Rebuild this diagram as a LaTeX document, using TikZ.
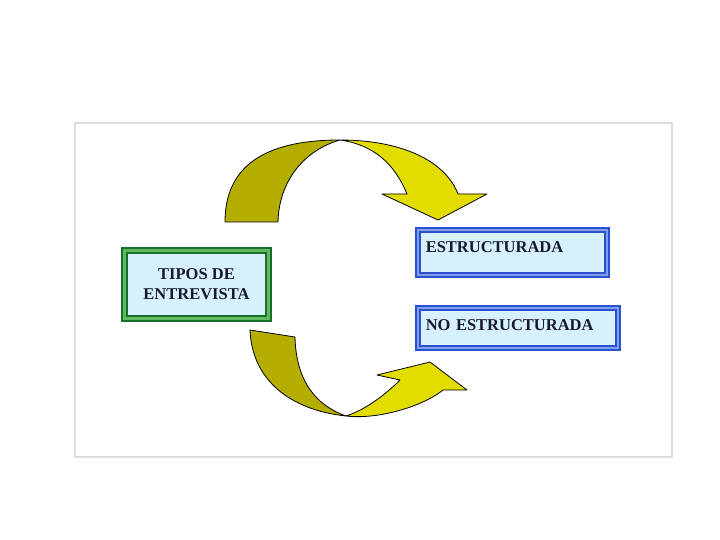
\documentclass[tikz,border=0pt]{standalone}
\usepackage{fontspec}
\setmainfont{Liberation Serif}
\definecolor{BoxFill}{RGB}{214,240,252}
\definecolor{GreenDark}{RGB}{25,110,40}
\definecolor{GreenMid}{RGB}{95,185,95}
\definecolor{BlueDark}{RGB}{45,80,210}
\definecolor{BlueMid}{RGB}{125,160,238}
\definecolor{RibbonBack}{RGB}{180,174,0}
\definecolor{RibbonFront}{RGB}{226,220,0}
\definecolor{FrameGray}{RGB}{222,222,222}
\definecolor{TextInk}{RGB}{25,25,40}
\usetikzlibrary{positioning}
\tikzset{rootbox/.style={fill=BoxFill,draw=GreenDark,double=GreenMid,double distance=3.5pt,line width=1.7pt,minimum width=144pt,minimum height=68pt,align=center,text=TextInk,font=\fontsize{16.5}{20}\selectfont\bfseries}}
\tikzset{leafbox/.style={fill=BoxFill,draw=BlueDark,double=BlueMid,double distance=2pt,line width=1.8pt,inner xsep=8pt,inner ysep=0pt,align=left,text height=12pt,text=TextInk,font=\fontsize{16.5}{20}\selectfont\bfseries}}
\tikzset{ribbonback/.style={fill=RibbonBack,draw=black,line width=0.8pt,line join=round}}
\tikzset{ribbonfront/.style={fill=RibbonFront,draw=black,line width=0.8pt,line join=round}}
\begin{document}
\begin{tikzpicture}[x=1pt,y=-1pt]
        \useasboundingbox[fill=white] (0,0) rectangle (720,540);
        \draw[FrameGray,line width=2pt] (75,123) rectangle (672,457);
        % boxes
        \node[rootbox] (tipos) at (196.5,284.5) {TIPOS DE\\ENTREVISTA};
        \node[leafbox,text width=173.5pt,text depth=13pt,minimum height=45.4pt] (estr) at (512.5,252.5) {ESTRUCTURADA};
        \node[leafbox,text width=184.5pt,text depth=8pt,minimum height=40.4pt] (noestr) at (518,328) {NO ESTRUCTURADA};
        % upper ribbon arrow
        \draw[ribbonback] (225,222) .. controls (225,168) and (262,140) .. (340,140)
            .. controls (305,150) and (279,180) .. (278,222) -- cycle;
        \draw[ribbonfront] (340,140) .. controls (400,140) and (445,160) .. (458,194)
            -- (487,194) -- (438,220) -- (382,194) -- (407,194)
            .. controls (395,165) and (375,145) .. (340,140) -- cycle;
        % lower ribbon arrow
        \draw[ribbonback] (250,330) -- (295,337) .. controls (296,380) and (315,405) .. (346,416)
            .. controls (290,410) and (252,380) .. (250,330) -- cycle;
        \draw[ribbonfront] (346,416) .. controls (380,420) and (425,405) .. (443,390)
            -- (467,390) -- (430,362) -- (377,375) -- (400,380)
            .. controls (385,395) and (365,410) .. (346,416) -- cycle;
    \end{tikzpicture}
\end{document}
